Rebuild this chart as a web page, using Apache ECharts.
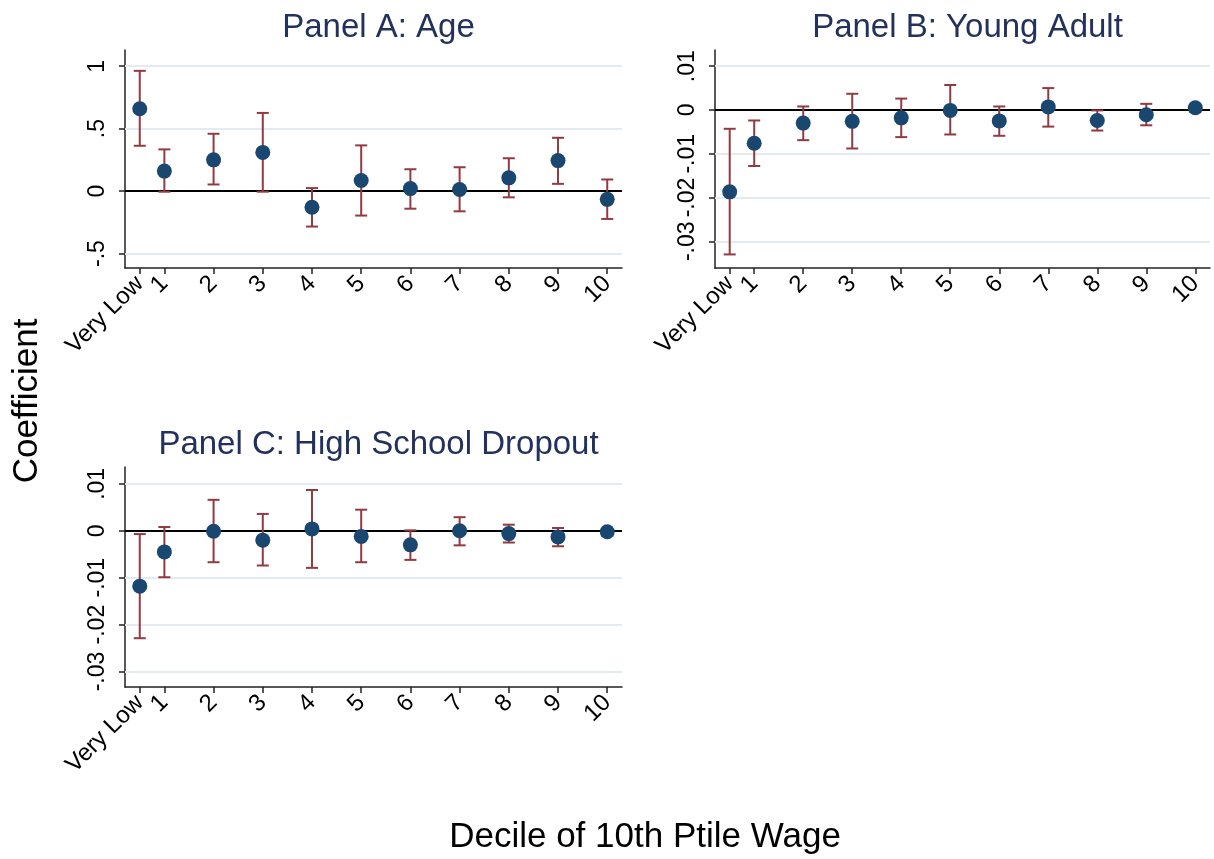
<!DOCTYPE html>
<html>
<head>
<meta charset="utf-8">
<script src="https://cdn.jsdelivr.net/npm/echarts@6.0.0/dist/echarts.min.js"></script>
<style>
html,body{margin:0;padding:0;background:#fff;}
#chart{width:1214px;height:859px;}
</style>
</head>
<body>
<div id="chart"></div>
<script>
// ---- data ----
const xPos = [0.5, 1, 2, 3, 4, 5, 6, 7, 8, 9, 10];
const xLabels = ['Very Low', '1', '2', '3', '4', '5', '6', '7', '8', '9', '10'];

const ageCoef = [0.66, 0.16, 0.25, 0.31, -0.13, 0.085, 0.02, 0.013, 0.106, 0.244, -0.066];
const ageLo   = [0.363, -0.005, 0.053, -0.005, -0.284, -0.196, -0.141, -0.162, -0.05, 0.058, -0.223];
const ageHi   = [0.963, 0.334, 0.459, 0.626, 0.024, 0.366, 0.175, 0.191, 0.263, 0.427, 0.093];

const youngCoef = [-0.0187, -0.0076, -0.003, -0.0026, -0.0018, -0.0001, -0.0025, 0.0007, -0.0024, -0.0011, 0.0005];
const youngLo   = [-0.033, -0.0128, -0.0069, -0.0088, -0.0062, -0.0056, -0.0059, -0.0038, -0.0047, -0.0035, -0.0005];
const youngHi   = [-0.0043, -0.0024, 0.0008, 0.0037, 0.0026, 0.0057, 0.0008, 0.005, -0.0001, 0.0014, 0.0012];

const dropCoef = [-0.0118, -0.0045, -0.0001, -0.002, 0.0004, -0.0012, -0.003, 0.0, -0.0006, -0.0013, -0.0002];
const dropLo   = [-0.0229, -0.0099, -0.0067, -0.0074, -0.0079, -0.0067, -0.0062, -0.0031, -0.0025, -0.0033, -0.0011];
const dropHi   = [-0.0007, 0.0008, 0.0066, 0.0036, 0.0087, 0.0045, 0.0001, 0.0029, 0.0013, 0.0006, 0.0004];

const ageTicks = [-0.5, 0, 0.5, 1];
const youngTicks = [-0.03, -0.02, -0.01, 0, 0.01];
const dropTicks = [-0.03, -0.02, -0.01, 0, 0.01];

const panelTitles = ['Panel A: Age', 'Panel B: Young Adult', 'Panel C: High School Dropout'];
const xTitle = 'Decile of 10th Ptile Wage';
const yTitle = 'Coefficient';

// ---- styling ----
const FONT = '"Liberation Sans", Arial, sans-serif';
const NAVY = '#1a476f';
const CRAN = '#923a42';
const GRID = '#e2ebef';
const TITLE_COLOR = '#22325c';

function stataFmt(v) {
  const s = String(+(+v).toFixed(6));
  return s.replace(/^(-?)0\./, '$1.');
}

const panels = [
  {coef: ageCoef, lo: ageLo, hi: ageHi, ticks: ageTicks, min: -0.616, max: 1.13,
   grid: {left: 125, top: 50, width: 497, height: 218}},
  {coef: youngCoef, lo: youngLo, hi: youngHi, ticks: youngTicks, min: -0.0361, max: 0.0137,
   grid: {left: 715, top: 50, width: 495, height: 218}},
  {coef: dropCoef, lo: dropLo, hi: dropHi, ticks: dropTicks, min: -0.0333, max: 0.0136,
   grid: {left: 125, top: 467, width: 497, height: 220}}
];

const grids = [], xAxes = [], yAxes = [], series = [], titles = [];

panels.forEach((p, i) => {
  grids.push(Object.assign({containLabel: false}, p.grid));
  xAxes.push({
    type: 'value', gridIndex: i, min: 0.2, max: 10.3,
    axisLine: {show: true, onZero: false, lineStyle: {color: '#222', width: 1.5}},
    axisTick: {show: true, customValues: xPos, length: 6, lineStyle: {color: '#222', width: 1.5}},
    axisLabel: {show: true, customValues: xPos, rotate: 45, margin: 12,
      fontFamily: FONT, fontSize: 24, color: '#000',
      formatter: v => { const k = xPos.indexOf(+v); return k >= 0 ? xLabels[k] : ''; }},
    splitLine: {show: false}
  });
  yAxes.push({
    type: 'value', gridIndex: i, min: p.min, max: p.max,
    axisLine: {show: true, onZero: false, lineStyle: {color: '#222', width: 1.5}},
    axisTick: {show: true, customValues: p.ticks, length: 6, lineStyle: {color: '#222', width: 1.5}},
    axisLabel: {show: true, customValues: p.ticks, rotate: 90, margin: 16,
      fontFamily: FONT, fontSize: 23, color: '#000', formatter: v => stataFmt(v)},
    splitLine: {show: false}
  });
  // gridlines + zero line
  series.push({
    type: 'line', xAxisIndex: i, yAxisIndex: i, data: [], silent: true, z: 1,
    markLine: {
      silent: true, symbol: 'none', z: 1, animation: false,
      label: {show: false},
      data: p.ticks.map(v => ({yAxis: v, lineStyle: v === 0
        ? {color: '#000', width: 2, type: 'solid'}
        : {color: GRID, width: 2, type: 'solid'}}))
    }
  });
  // error bars
  series.push({
    type: 'custom', xAxisIndex: i, yAxisIndex: i, z: 3, silent: true,
    data: xPos.map((x, k) => [x, p.lo[k], p.hi[k]]),
    renderItem: (params, api) => {
      const x = api.value(0);
      const a = api.coord([x, api.value(2)]);
      const b = api.coord([x, api.value(1)]);
      const c = 6;
      const st = {stroke: CRAN, lineWidth: 2};
      return {type: 'group', children: [
        {type: 'line', shape: {x1: a[0], y1: a[1], x2: b[0], y2: b[1]}, style: st},
        {type: 'line', shape: {x1: a[0] - c, y1: a[1], x2: a[0] + c, y2: a[1]}, style: st},
        {type: 'line', shape: {x1: b[0] - c, y1: b[1], x2: b[0] + c, y2: b[1]}, style: st}
      ]};
    }
  });
  // point estimates
  series.push({
    type: 'scatter', xAxisIndex: i, yAxisIndex: i, z: 4, silent: true,
    symbol: 'circle', symbolSize: 15,
    itemStyle: {color: NAVY, opacity: 1},
    data: xPos.map((x, k) => [x, p.coef[k]])
  });
  titles.push({
    text: panelTitles[i],
    left: p.grid.left + p.grid.width / 2, textAlign: 'center',
    top: p.grid.top - 44,
    textStyle: {fontFamily: FONT, fontSize: 33, fontWeight: 'normal', color: TITLE_COLOR}
  });
});

const chart = echarts.init(document.getElementById('chart'), null, {renderer: 'canvas'});
chart.setOption({
  animation: false,
  backgroundColor: '#fff',
  title: titles,
  grid: grids,
  xAxis: xAxes,
  yAxis: yAxes,
  series: series,
  graphic: [
    {type: 'text', x: 645, y: 837, style: {text: xTitle, fontFamily: FONT, fontSize: 35, fill: '#000', align: 'center', verticalAlign: 'middle'}},
    {type: 'text', x: 27, y: 401, rotation: Math.PI / 2,
     style: {text: yTitle, fontFamily: FONT, fontSize: 35, fill: '#000', align: 'center', verticalAlign: 'middle'}}
  ]
});
</script>
</body>
</html>
